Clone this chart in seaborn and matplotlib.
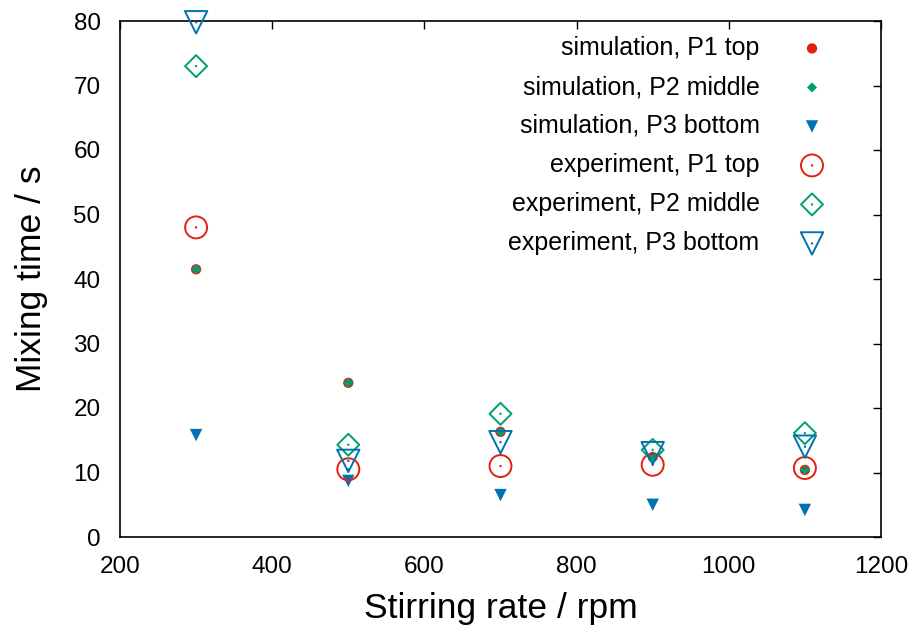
import matplotlib
matplotlib.use("Agg")
import matplotlib.pyplot as plt
import seaborn as sns
import pandas as pd
from matplotlib.legend_handler import HandlerTuple

rpm = [300, 500, 700, 900, 1100]
sim_p1 = [41.5, 23.9, 16.3, 12.4, 10.4]
sim_p2 = [41.5, 23.9, 16.3, 12.4, 10.4]
sim_p3 = [15.8, 8.7, 6.5, 5.0, 4.2]
exp_p1 = [48.0, 10.5, 11.0, 11.2, 10.7]
exp_p2 = [73.0, 14.3, 19.1, 13.5, 16.1]
exp_p3 = [79.8, 11.8, 14.7, 13.0, 14.0]

labels = ["simulation, P1 top", "simulation, P2 middle", "simulation, P3 bottom",
          "experiment, P1 top", "experiment, P2 middle", "experiment, P3 bottom"]

RED = "#e51e10"
GREEN = "#009e73"
BLUE = "#0072b2"

sns.set_theme(style="white")
plt.rcParams['font.family'] = ['Liberation Sans', 'DejaVu Sans']
plt.rcParams['text.color'] = 'black'
plt.rcParams['axes.labelcolor'] = 'black'

W, H = 917, 637
fig = plt.figure(figsize=(W / 100, H / 100), dpi=100)
ax = fig.add_axes([120 / W, 1 - 537 / H, 761 / W, 516 / H])

specs = [
    (sim_p1, dict(marker="o", s=55, color=RED, edgecolor="none")),
    (sim_p2, dict(marker="D", s=26, color=GREEN, edgecolor="none")),
    (sim_p3, dict(marker="v", s=80, color=BLUE, edgecolor="none")),
    (exp_p1, dict(marker="o", s=250, facecolor="none", edgecolor=RED, linewidth=1.4)),
    (exp_p2, dict(marker="D", s=125, facecolor="none", edgecolor=GREEN, linewidth=1.4)),
    (exp_p3, dict(marker="v", s=260, facecolor="none", edgecolor=BLUE, linewidth=1.4)),
]
dot_colors = [None, None, None, RED, GREEN, BLUE]

handles = []
for i, (vals, kw) in enumerate(specs):
    df = pd.DataFrame({"x": rpm, "y": vals})
    sns.scatterplot(data=df, x="x", y="y", ax=ax, legend=False, zorder=3 + i, clip_on=False, **kw)
    h = ax.collections[-1]
    if dot_colors[i] is not None:
        sns.scatterplot(data=df, x="x", y="y", ax=ax, legend=False, marker="o", s=3,
                        color=dot_colors[i], edgecolor="none", zorder=3 + i, clip_on=False)
        d = ax.collections[-1]
        handles.append((h, d))
    else:
        handles.append(h)

ax.set_xlim(200, 1200)
ax.set_ylim(0, 80)
ax.set_xticks([200, 400, 600, 800, 1000, 1200])
ax.set_yticks(range(0, 81, 10))
ax.tick_params(direction="in", length=6, width=1, top=True, right=True,
               labelsize=17.5, colors="black")
ax.tick_params(axis="x", pad=14)
ax.tick_params(axis="y", pad=14)
for sp in ax.spines.values():
    sp.set_color("black")
    sp.set_linewidth(1.2)

ax.set_xlabel("Stirring rate / rpm", fontsize=25.5, labelpad=10)
ax.set_ylabel("Mixing time / s", fontsize=25.5, labelpad=18)

leg = fig.legend(handles, labels, handler_map={tuple: HandlerTuple(ndivide=1, pad=0)},
                 loc="upper right", bbox_to_anchor=(824.5 / W, 1 - 36 / H),
                 bbox_transform=fig.transFigure, frameon=False, borderpad=0, borderaxespad=0,
                 markerfirst=False, fontsize=18, labelspacing=0.6,
                 handlelength=1.0, handletextpad=1.6, alignment="right")
for t in leg.get_texts():
    t.set_ha("right")
leg._legend_box.align = "right"

fig.savefig("out.png", dpi=100)
